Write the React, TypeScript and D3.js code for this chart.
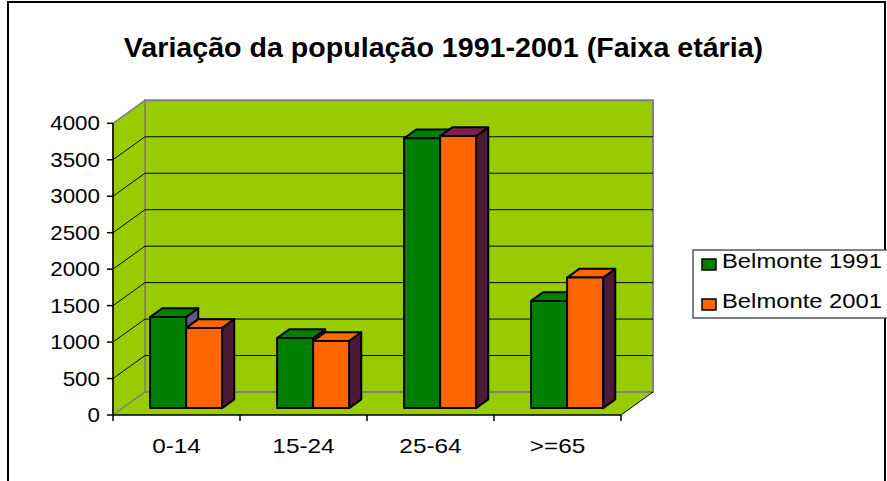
import React from "react";
import * as d3 from "d3";

const categories = ["0-14", "15-24", "25-64", ">=65"];
const seriesNames = ["Belmonte 1991", "Belmonte 2001"];
const belmonte1991 = [1250, 960, 3700, 1470];
const belmonte2001 = [1100, 920, 3730, 1790];
const yTicks = [0, 500, 1000, 1500, 2000, 2500, 3000, 3500, 4000];
const title = "Variação da população 1991-2001 (Faixa etária)";

const W = 887;
const H = 481;
const FONT = "'Liberation Sans', Arial, sans-serif";
const BG = "#99CC00";
const frontColors = ["#008000", "#FF6600"];
const topColors = ["#008000", "#FF6600"];
const sideColors = ["#5A5A8C", "#4C1C36"];
// original renderer shaded the top of the 25-64 / 2001 bar in purple
const topOverride: Record<string, string> = { "25-64|Belmonte 2001": "#7A2150" };

// 3D box geometry
const X0 = 113, X1 = 621;
const Y0 = 415, YTOP = 123.3;
const DX = 32, DY = -23;
const F1 = 0.3, F2 = 0.68;

export default function App() {
  const x0 = d3.scaleBand<string>().domain(categories).range([X0, X1]).padding(0);
  const x1 = d3.scaleBand<string>().domain(seriesNames).range([0, x0.bandwidth()]).paddingInner(0).paddingOuter(0.764);
  const y = d3.scaleLinear().domain([0, 4000]).range([Y0, YTOP]);
  const P = (x: number, yy: number, f: number): [number, number] => [x + f * DX, yy + f * DY];
  const pts = (arr: [number, number][]) => arr.map((p) => p.join(",")).join(" ");

  const data = [belmonte1991, belmonte2001];
  const yMax = y(4000);

  const bars: JSX.Element[] = [];
  categories.forEach((c, ci) => {
    seriesNames.forEach((s, si) => {
      const v = data[si][ci];
      const xl = (x0(c) as number) + (x1(s) as number);
      const xr = xl + x1.bandwidth();
      const yb = y(0);
      const yt = y(v);
      const fbl = P(xl, yb, F1), fbr = P(xr, yb, F1), ftl = P(xl, yt, F1), ftr = P(xr, yt, F1);
      const btl = P(xl, yt, F2), btr = P(xr, yt, F2), bbr = P(xr, yb, F2);
      const top = topOverride[c + "|" + s] || topColors[si];
      bars.push(
        <g key={c + s} stroke="#000" strokeWidth={2} strokeLinejoin="round">
          <polygon points={pts([fbr, ftr, btr, bbr])} fill={sideColors[si]} />
          <polygon points={pts([ftl, ftr, btr, btl])} fill={top} />
          <polygon points={pts([fbl, fbr, ftr, ftl])} fill={frontColors[si]} />
        </g>
      );
    });
  });

  const fb = P(X0, Y0, 0), fr = P(X1, Y0, 0), bl = P(X0, Y0, 1), br = P(X1, Y0, 1);
  const tl = P(X0, yMax, 1), tr = P(X1, yMax, 1), ftop = P(X0, yMax, 0);

  return (
    <svg width={W} height={H} style={{ position: "absolute", left: 0, top: 0, background: "#fff" }} fontFamily={FONT}>
      <rect x={8} y={2} width={877} height={500} fill="#fff" stroke="#000" strokeWidth={2} />
      <text x={0} y={0} transform={`translate(443.5,57) scale(1.06,1)`} textAnchor="middle" fontSize={27} fontWeight="bold">{title}</text>

      {/* back wall */}
      <polygon points={pts([tl, tr, br, bl])} fill={BG} stroke="#808080" strokeWidth={2} />
      {/* left wall */}
      <polygon points={pts([ftop, tl, bl, fb])} fill={BG} stroke="#808080" strokeWidth={1.5} />
      {/* floor */}
      <polygon points={pts([fb, fr, br, bl])} fill={BG} stroke="none" />
      <line x1={bl[0]} y1={bl[1]} x2={br[0]} y2={br[1]} stroke="#808080" strokeWidth={2} />
      <line x1={fr[0]} y1={fr[1]} x2={br[0]} y2={br[1]} stroke="#000" strokeWidth={1} />
      <line x1={fb[0]} y1={fb[1]} x2={bl[0]} y2={bl[1]} stroke="#808080" strokeWidth={1.5} />

      {/* gridlines */}
      {yTicks.filter((t) => t > 0 && t < 4000).map((t) => {
        const a = P(X0, y(t), 0), b = P(X0, y(t), 1), c = P(X1, y(t), 1);
        return (
          <g key={t} stroke="#000" strokeWidth={1}>
            <line x1={a[0]} y1={a[1]} x2={b[0]} y2={b[1]} />
            <line x1={b[0]} y1={b[1]} x2={c[0]} y2={c[1]} />
          </g>
        );
      })}

      {bars}

      {/* axes */}
      <line x1={X0} y1={yMax} x2={X0} y2={Y0} stroke="#000" strokeWidth={1.5} />
      <line x1={X0} y1={Y0} x2={X1} y2={Y0} stroke="#000" strokeWidth={1.5} />
      {yTicks.map((t) => (
        <g key={t}>
          <line x1={X0 - 6} y1={y(t)} x2={X0} y2={y(t)} stroke="#000" strokeWidth={1.5} />
          <text transform={`translate(${X0 - 13},${y(t) + 7}) scale(1.12,1)`} textAnchor="end" fontSize={20}>{t}</text>
        </g>
      ))}
      {[...categories.map((c) => x0(c) as number), X1].map((xv, i) => (
        <line key={i} x1={xv} y1={Y0} x2={xv} y2={Y0 + 6} stroke="#000" strokeWidth={1.5} />
      ))}
      {categories.map((c) => (
        <text key={c} transform={`translate(${(x0(c) as number) + x0.bandwidth() / 2},453) scale(1.16,1)`} textAnchor="middle" fontSize={21}>{c}</text>
      ))}

      {/* legend */}
      <rect x={693} y={250} width={200} height={68} fill="#fff" stroke="#555" strokeWidth={1.5} />
      {seriesNames.map((s, i) => (
        <g key={s}>
          <rect x={702} y={259 + i * 40} width={14} height={11} fill={frontColors[i]} stroke="#000" strokeWidth={1.5} />
          <text transform={`translate(722,${268 + i * 40}) scale(1.22,1)`} fontSize={19.5}>{s}</text>
        </g>
      ))}
    </svg>
  );
}
